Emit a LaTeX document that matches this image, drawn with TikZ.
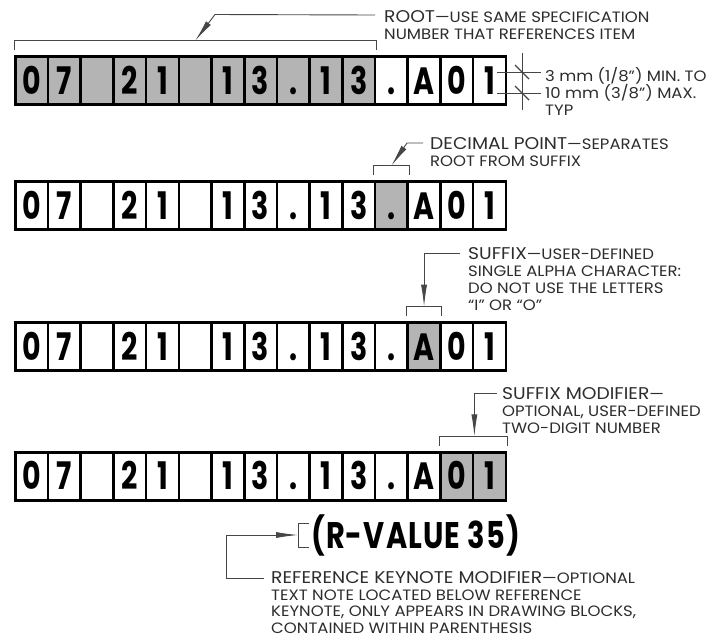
\documentclass[tikz,border=0pt]{standalone}
\usepackage{fontspec}
\setmainfont{Poppins}[FakeStretch=1.1]
\newfontfamily\boxfont[FakeStretch=0.75]{Poppins}
\newfontfamily\rvfont[FakeStretch=0.78, LetterSpace=3]{Poppins}
\usetikzlibrary{arrows.meta,calc}
\definecolor{cellgray}{RGB}{180,180,180}
\definecolor{leadgray}{RGB}{70,70,70}
\definecolor{notegray}{RGB}{45,45,45}
\newcommand{\keyhead}[1]{{\fontsize{17}{17}\selectfont #1}}

\begin{document}
\begin{tikzpicture}[x=1pt, y=-1pt,
    cell/.style={draw=black, line width=2.6pt, minimum width=32.7pt, minimum height=48pt,
      inner sep=0pt, text height=27pt, text depth=0pt,
      font=\boxfont\bfseries\fontsize{38}{38}\selectfont},
    bracket/.style={draw=leadgray, line width=0.9pt},
    leader/.style={draw=leadgray, line width=0.9pt},
    tip/.style={-{Latex[length=22pt,width=6pt]}},
    note/.style={anchor=north west, inner sep=0pt, align=left, text=notegray,
      font=\fontsize{15}{17.2}\selectfont}]
  \useasboundingbox (0,0) rectangle (707,638);
  % the four rows of cells
  \foreach \row/\yc/\lo/\hi in {1/80.5/1/11, 2/205.5/12/12, 3/346.5/13/13, 4/476.2/14/15}{
    \foreach \ch [count=\i] in {0,7,{},2,1,{},1,3,.,1,3,.,A,0,1}{
      \pgfmathtruncatemacro\isgray{and(\i>=\lo,\i<=\hi)}
      \ifnum\isgray=1 \def\cellfill{cellgray}\else\def\cellfill{white}\fi
      \node[cell, fill=\cellfill] (r\row c\i) at ({15.3+32.7*(\i-0.5)},\yc) {\ch};
    }
  }
  % brackets
  \draw[bracket] ([shift={(0,-5)}]r1c1.north west) -- ++(0,-9.5) -| ([shift={(0,-5)}]r1c11.north east);
  \draw[bracket] ([shift={(0,-5)}]r2c12.north west) -- ++(0,-9.5) -| ([shift={(0,-5)}]r2c12.north east);
  \draw[bracket] ([shift={(0,-5)}]r3c13.north west) -- ++(0,-9.5) -| ([shift={(0,-5)}]r3c13.north east);
  \draw[bracket] ([shift={(0,-5)}]r4c14.north west) -- ++(0,-9.5) -| ([shift={(0,-5)}]r4c15.north east);
  \coordinate (rootbr) at ($(r1c1.north west)!0.5!(r1c11.north east) + (0,-14.5)$);
  \coordinate (decbr) at ($(r2c12.north) + (0,-14.5)$);
  \coordinate (sufbr) at ($(r3c13.north) + (0,-14.5)$);
  \coordinate (modbr) at ($(r4c14.north east) + (0,-14.5)$);
  % notes
  \node[note] (rootnote) at (384,10) {\keyhead{ROOT}—USE SAME SPECIFICATION\\NUMBER THAT REFERENCES ITEM};
  \node[note] (decnote) at (430,137) {\keyhead{DECIMAL POINT}—SEPARATES\\ROOT FROM SUFFIX};
  \node[note] (sufnote) at (468,247) {\keyhead{SUFFIX}—USER-DEFINED\\SINGLE ALPHA CHARACTER:\\DO NOT USE THE LETTERS\\``I'' OR ``O''};
  \node[note] (modnote) at (502,387) {\keyhead{SUFFIX MODIFIER}—\\OPTIONAL, USER-DEFINED\\TWO-DIGIT NUMBER};
  \node[note] (dimnote) at (545,67) {3 mm (1/8") MIN. TO\\10 mm (3/8") MAX.\\TYP};
  \node[note, font=\fontsize{15}{16.8}\selectfont] (keynote) at (271,571)
    {\keyhead{REFERENCE KEYNOTE MODIFIER}—OPTIONAL\\TEXT NOTE LOCATED BELOW REFERENCE\\KEYNOTE, ONLY APPEARS IN DRAWING BLOCKS,\\CONTAINED WITHIN PARENTHESIS};
  \node[anchor=west, inner sep=0pt, font=\rvfont\bfseries\fontsize{37}{37}\selectfont]
    (rvalue) at (311,535) {(R-VALUE 35)};
  % leaders
  \coordinate (rootbend) at (215,14.5);
  \coordinate (decbend) at (407,143);
  \coordinate (keybend) at (226,535);
  \draw[leader, tip] ([shift={(-9,5)}]rootnote.north west) -- (rootbend) -- (rootbr);
  \draw[leader, tip] ([shift={(-7,6)}]decnote.north west) -- (decbend) -- (decbr);
  \draw[leader, tip] ([shift={(-8,6)}]sufnote.north west) -| (sufbr);
  \draw[leader, tip] ([shift={(-5,6)}]modnote.north west) -| (modbr);
  \coordinate (rvbr) at ([shift={(-13,0)}]rvalue.west);
  \draw[bracket] ([shift={(-2,-12)}]rvalue.west) -| ([shift={(-13,12)}]rvalue.west) -- ([shift={(-2,12)}]rvalue.west);
  \draw[leader, tip] ([shift={(-7,7)}]keynote.north west) -| (keybend) -- (rvbr);
  % character height dimension
  \draw[leader] (522,53) -- (522,110);
  \draw[leader] (497,72) -- (541,72);
  \draw[leader] (497,93) -- (541,93);
  \draw[leader, line width=1.4pt] (515,65) -- (529,79);
  \draw[leader, line width=1.4pt] (515,86) -- (529,100);
\end{tikzpicture}
\end{document}
